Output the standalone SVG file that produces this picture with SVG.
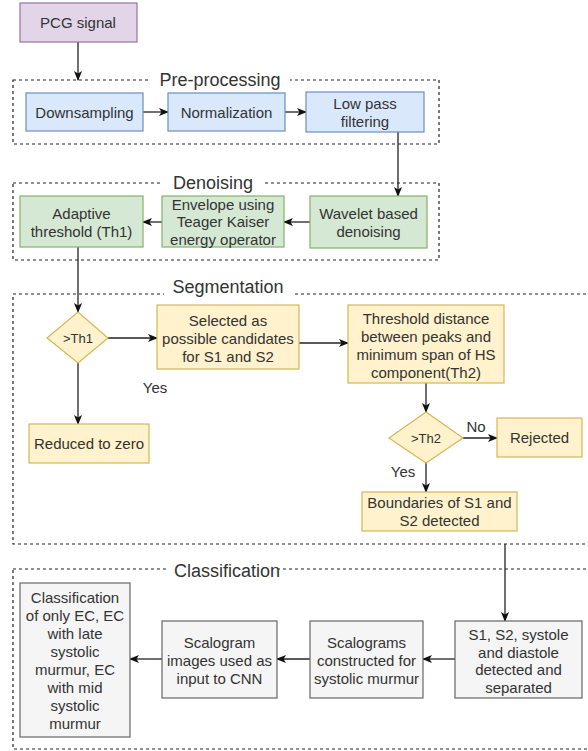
<svg xmlns="http://www.w3.org/2000/svg" width="588" height="751" viewBox="0 0 588 751">
<defs>
<marker id="arr" markerUnits="userSpaceOnUse" markerWidth="10" markerHeight="10" viewBox="0 0 10 10" refX="9" refY="5" orient="auto">
<path d="M0,1 L10,5 L0,9 L2.5,5 z" fill="#111"/>
</marker>
<style>
text{font-family:"Liberation Sans",Arial,sans-serif;fill:#333;text-anchor:middle;dominant-baseline:central}
.n{font-size:15px}
.s{font-size:13px}
.t{font-size:18px}
.grp{fill:none;stroke:#222;stroke-width:1.2;stroke-dasharray:3 3}
.lb{fill:#fff;stroke:none}
.pur{fill:#e1d5e7;stroke:#9673a6;stroke-width:1.2}
.blu{fill:#dae8fc;stroke:#6c8ebf;stroke-width:1.2}
.grn{fill:#d5e8d4;stroke:#82b366;stroke-width:1.2}
.yel{fill:#fff2cc;stroke:#d6b656;stroke-width:1.2}
.gry{fill:#f5f5f5;stroke:#666;stroke-width:1.2}
.e{fill:none;stroke:#222;stroke-width:1.3;marker-end:url(#arr)}
</style>
</defs>
<rect width="588" height="751" fill="#fff"/>

<g id="group-preprocessing">
<rect class="grp" x="13" y="80" width="426" height="64"/>
<rect class="lb" x="150" y="70" width="140" height="20"/>
<text class="t" x="220" y="80">Pre-processing</text>
</g>
<g id="group-denoising">
<rect class="grp" x="13" y="183" width="426" height="77"/>
<rect class="lb" x="161" y="173" width="104" height="20"/>
<text class="t" x="213" y="183">Denoising</text>
</g>
<g id="group-segmentation">
<rect class="grp" x="13" y="294" width="590" height="250"/>
<rect class="lb" x="164" y="280" width="128" height="24"/>
<text class="t" x="228" y="287">Segmentation</text>
</g>
<g id="group-classification">
<rect class="grp" x="13" y="569" width="590" height="180"/>
<rect class="lb" x="167" y="559" width="111" height="20"/>
<text class="t" x="227" y="571">Classification</text>
</g>

<g id="connectors">
<path class="e" d="M78,42 V80"/>
<path class="e" d="M143,112 H168"/>
<path class="e" d="M285,112 H306"/>
<path class="e" d="M398,132 V196"/>
<path class="e" d="M310,222 H284"/>
<path class="e" d="M162,222 H143"/>
<path class="e" d="M78,247 V312"/>
<path class="e" d="M108,338 H157"/>
<path class="e" d="M78,363 V424"/>
<path class="e" d="M299,343 H348"/>
<path class="e" d="M426,383 V412"/>
<path class="e" d="M463,438 H497"/>
<path class="e" d="M426,463 V492"/>
<path class="e" d="M505,544 V621"/>
<path class="e" d="M455,659 H423"/>
<path class="e" d="M310,659 H277"/>
<path class="e" d="M162,659 H130"/>
<text class="n" x="155" y="387">Yes</text>
<text class="n" x="476" y="426">No</text>
<text class="n" x="403" y="471">Yes</text>
</g>

<g id="pcg"><rect class="pur" x="20" y="3" width="117" height="39"/><text class="n" x="78" y="22">PCG signal</text></g>
<g id="downsampling"><rect class="blu" x="26" y="93" width="117" height="38"/><text class="n" x="84.5" y="112">Downsampling</text></g>
<g id="normalization"><rect class="blu" x="168" y="93" width="117" height="38"/><text class="n" x="226.5" y="112">Normalization</text></g>
<g id="lowpass"><rect class="blu" x="306" y="92" width="118" height="40"/><text class="n" x="365" y="103">Low pass</text><text class="n" x="365" y="121">filtering</text></g>
<g id="wavelet"><rect class="grn" x="310" y="196" width="117" height="52"/><text class="n" x="368.5" y="213">Wavelet based</text><text class="n" x="368.5" y="231">denoising</text></g>
<g id="envelope"><rect class="grn" x="162" y="196" width="122" height="51"/><text class="n" x="223" y="204">Envelope using</text><text class="n" x="223" y="221.5">Teager Kaiser</text><text class="n" x="223" y="239">energy operator</text></g>
<g id="adaptive"><rect class="grn" x="20" y="196" width="123" height="51"/><text class="n" x="81.5" y="213">Adaptive</text><text class="n" x="81.5" y="231">threshold (Th1)</text></g>
<g id="th1"><path class="yel" d="M78,312 L108,338 L78,363 L47,338 Z"/><text class="s" x="78" y="338">&gt;Th1</text></g>
<g id="selected"><rect class="yel" x="157" y="305" width="142" height="64"/><text class="n" x="228" y="320">Selected as</text><text class="n" x="228" y="338">possible candidates</text><text class="n" x="228" y="356">for S1 and S2</text></g>
<g id="reduced"><rect class="yel" x="29" y="424" width="120" height="39"/><text class="n" x="89" y="443.5">Reduced to zero</text></g>
<g id="threshold"><rect class="yel" x="348" y="305" width="156" height="78"/><text class="n" x="426" y="318">Threshold distance</text><text class="n" x="426" y="336">between peaks and</text><text class="n" x="426" y="354">minimum span of HS</text><text class="n" x="426" y="372">component(Th2)</text></g>
<g id="th2"><path class="yel" d="M426,412 L463,438 L426,463 L389,438 Z"/><text class="s" x="426" y="438">&gt;Th2</text></g>
<g id="rejected"><rect class="yel" x="497" y="418" width="85" height="39"/><text class="n" x="539.5" y="437.5">Rejected</text></g>
<g id="boundaries"><rect class="yel" x="362" y="492" width="155" height="39"/><text class="n" x="439.5" y="502">Boundaries of S1 and</text><text class="n" x="439.5" y="520">S2 detected</text></g>
<g id="s1s2"><rect class="gry" x="455" y="621" width="127" height="77"/><text class="n" x="518.5" y="634">S1, S2, systole</text><text class="n" x="518.5" y="652">and diastole</text><text class="n" x="518.5" y="669">detected and</text><text class="n" x="518.5" y="687">separated</text></g>
<g id="scalograms"><rect class="gry" x="310" y="621" width="113" height="77"/><text class="n" x="366.5" y="642">Scalograms</text><text class="n" x="366.5" y="660">constructed for</text><text class="n" x="366.5" y="678">systolic murmur</text></g>
<g id="cnn"><rect class="gry" x="162" y="621" width="115" height="77"/><text class="n" x="219.5" y="642">Scalogram</text><text class="n" x="219.5" y="660">images used as</text><text class="n" x="219.5" y="678">input to CNN</text></g>
<g id="classify"><rect class="gry" x="20" y="583" width="110" height="154"/>
<text class="n" x="75" y="597">Classification</text><text class="n" x="75" y="615">of only EC, EC</text><text class="n" x="75" y="633">with late</text><text class="n" x="75" y="651">systolic</text><text class="n" x="75" y="669">murmur, EC</text><text class="n" x="75" y="687">with mid</text><text class="n" x="75" y="705">systolic</text><text class="n" x="75" y="723">murmur</text></g>
</svg>
